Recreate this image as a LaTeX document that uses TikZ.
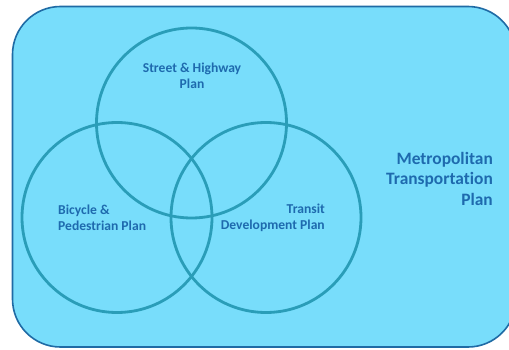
\documentclass[tikz,border=0pt]{standalone}
\usepackage{fontspec}
\setmainfont{Carlito}[Ligatures={NoCommon}]
\definecolor{bgfill}{HTML}{78DDFB}
\definecolor{frame}{HTML}{1F6BA5}
\definecolor{ring}{HTML}{2A9DB8}
\definecolor{txt}{HTML}{1E6AAE}
\tikzset{
  venn/.style={draw=ring, line width=2.8pt},
  lbl/.style={text=txt, font=\bfseries\fontsize{13.6}{16}\selectfont, inner sep=0pt},
  biglbl/.style={text=txt, font=\bfseries\fontsize{17.4}{20.5}\selectfont, inner sep=0pt}
}
\begin{document}
\begin{tikzpicture}[x=1pt,y=-1pt]
\useasboundingbox (0,0) rectangle (509,350);
\clip (0,0) rectangle (509,350);
\draw[fill=bgfill, draw=frame, line width=1.6pt, rounded corners=48pt] (12.5,6.5) rectangle (516,347);
\draw[venn] (191.5,123) circle[radius=95];
\draw[venn] (117,217.5) circle[radius=95];
\draw[venn] (266,217.5) circle[radius=95];
\node[lbl, align=center] (street) at (192,76) {Street \& Highway\\Plan};
\node[lbl, align=left, anchor=west] (bike) at (58,218) {Bicycle \&\\Pedestrian Plan};
\node[lbl, align=right, anchor=east] (transit) at (325,218) {Transit\\Development Plan};
\node[biglbl, align=right, anchor=east] (mtp) at (493,178.5) {Metropolitan\\Transportation\\Plan};
\end{tikzpicture}
\end{document}
